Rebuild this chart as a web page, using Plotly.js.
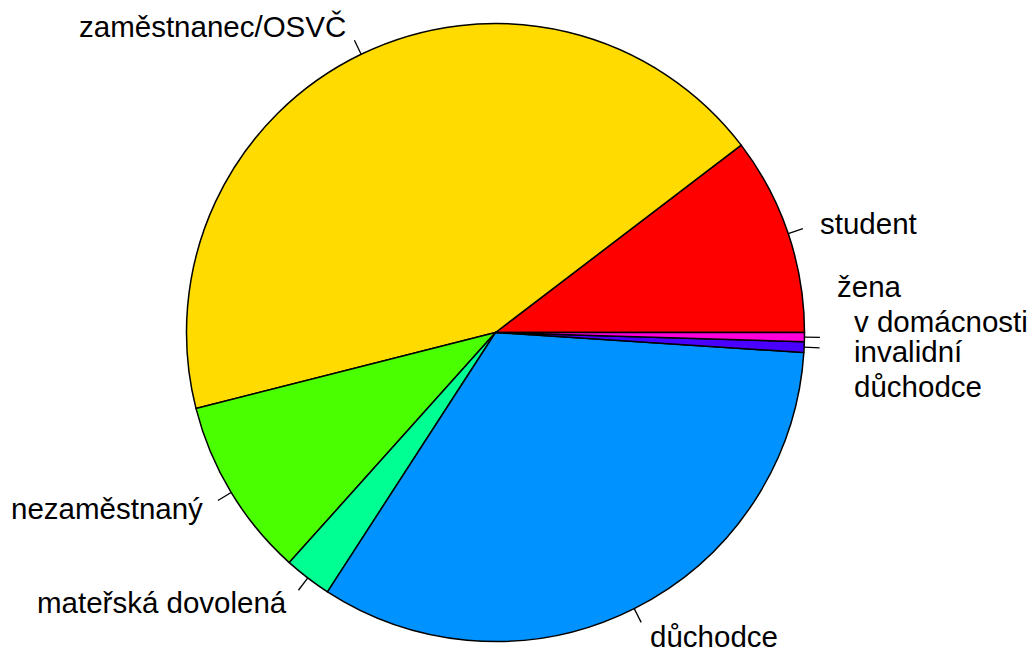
<!DOCTYPE html>
<html>
<head>
<meta charset="utf-8">
<script src="https://cdn.plot.ly/plotly-3.0.1.min.js"></script>
<style>html,body{margin:0;padding:0;background:#fff;}#chart{width:1030px;height:648px;}</style>
</head>
<body>
<div id="chart"></div>
<script>
// ---- data ----
const categories = ["student", "zaměstnanec/OSVČ", "nezaměstnaný", "mateřská dovolená", "důchodce", "invalidní důchodce", "žena v domácnosti"];
const shares = [10.37, 43.58, 9.42, 2.48, 33.12, 0.55, 0.48];
const labelLines = [["student"], ["zaměstnanec/OSVČ"], ["nezaměstnaný"], ["mateřská dovolená"], ["důchodce"], ["invalidní", "důchodce"], ["žena", "v domácnosti"]];
const colors = ["#FF0000", "#FFDB00", "#49FF00", "#00FF92", "#0092FF", "#4900FF", "#FF00DB"];

// ---- layout / style ----
const W = 1030, H = 648;
const cx = 495.5, cy = 332.5, R = 309;
const fontSize = 29.5, lineH = 35;
const fontFamily = "Liberation Sans, Arial, Helvetica, sans-serif";
// manual label nudges (px): per category index -> {dx, dy, indent per line}
const labelNudge = {5: {dx: 17, dy: 20, indent: [0, 0]}, 6: {dx: 0, dy: -34, indent: [0, 17]}};

const total = shares.reduce((a, b) => a + b, 0);
const annotations = [];
const shapes = [];
let cum = 0;
shares.forEach((v, i) => {
  const mid = (cum + v / 2) / total * 2 * Math.PI;
  cum += v;
  const c = Math.cos(mid), s = Math.sin(mid);
  // tick
  shapes.push({
    type: "line", xref: "paper", yref: "paper",
    x0: (cx + R * c) / W, y0: 1 - (cy - R * s) / H,
    x1: (cx + 1.05 * R * c) / W, y1: 1 - (cy - 1.05 * R * s) / H,
    line: {color: "#000", width: 1.3}
  });
  const nudge = labelNudge[i] || {dx: 0, dy: 0};
  const lx = cx + 1.1 * R * c + nudge.dx;
  const ly0 = cy - 1.1 * R * s + nudge.dy;
  const lines = labelLines[i];
  lines.forEach((t, k) => {
    const ly = ly0 + (k - (lines.length - 1) / 2) * lineH;
    const ind = nudge.indent ? nudge.indent[k] : 0;
    annotations.push({
      xref: "paper", yref: "paper",
      x: (lx + (c < 0 ? 0 : ind)) / W, y: 1 - ly / H,
      text: t, showarrow: false,
      xanchor: c < 0 ? "right" : "left", yanchor: "middle",
      font: {size: fontSize, family: fontFamily, color: "#000"}
    });
  });
});

// first slice should start at 3 o'clock and run counterclockwise
const rotation = 90 - shares[0] / total * 360;

const trace = {
  type: "pie",
  labels: categories,
  values: shares,
  sort: false,
  direction: "counterclockwise",
  rotation: rotation,
  textinfo: "none",
  marker: {colors: colors, line: {color: "#000", width: 1.5}},
  domain: {x: [(cx - R) / W, (cx + R) / W], y: [1 - (cy + R) / H, 1 - (cy - R) / H]},
  hoverinfo: "label+percent"
};

Plotly.newPlot("chart", [trace], {
  width: W, height: H,
  margin: {l: 0, r: 0, t: 0, b: 0},
  paper_bgcolor: "#fff",
  showlegend: false,
  annotations: annotations,
  shapes: shapes
}, {displayModeBar: false});
</script>
</body>
</html>
